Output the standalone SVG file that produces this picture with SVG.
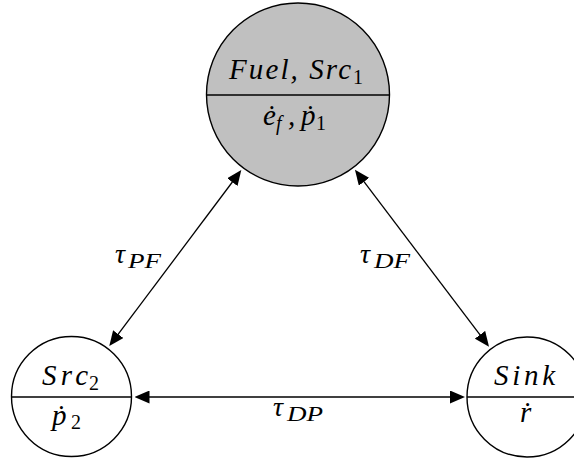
<svg xmlns="http://www.w3.org/2000/svg" width="574" height="459" viewBox="0 0 574 459">
  <style>
    .node { stroke: #000; stroke-width: 1.4; }
    .plain { fill: #fff; }
    .shaded { fill: #c0c0c0; }
    .divider { stroke: #000; stroke-width: 1.4; }
    .m { font-family: "Liberation Serif", "DejaVu Serif", serif; font-style: italic; font-size: 29px; fill: #000; }
    .sub { font-family: "Liberation Serif", "DejaVu Serif", serif; font-style: italic; font-size: 20px; fill: #000; }
    .num { font-family: "Liberation Serif", "DejaVu Serif", serif; font-style: normal; font-size: 20px; fill: #000; }
    .lbl { font-family: "Liberation Serif", "DejaVu Serif", serif; font-style: italic; font-size: 28px; fill: #000; }
    .lsub { font-family: "Liberation Serif", "DejaVu Serif", serif; font-style: italic; font-size: 21px; fill: #000; }
    .edge { stroke: #000; stroke-width: 1.3; fill: none; marker-start: url(#head); marker-end: url(#head); }
  </style>
  <defs>
    <marker id="head" markerUnits="userSpaceOnUse" markerWidth="15" markerHeight="13" refX="7" refY="6.5" orient="auto-start-reverse">
      <path d="M0,0 L15,6.5 L0,13 z" fill="#000"/>
    </marker>
  </defs>

  <rect width="574" height="459" fill="#fff"/>

  <!-- connectors -->
  <g id="connectors">
    <line class="edge" x1="236.5" y1="176.5" x2="114.1" y2="339.7"/>
    <line class="edge" x1="359.8" y1="176.2" x2="484.2" y2="340.4"/>
    <line class="edge" x1="142.5" y1="397" x2="457" y2="397"/>
    <text class="lbl" x="115" y="263">τ</text>
    <text class="lsub" x="128" y="268" textLength="33" lengthAdjust="spacingAndGlyphs">PF</text>
    <text class="lbl" x="360" y="263">τ</text>
    <text class="lsub" x="374" y="268" textLength="36" lengthAdjust="spacingAndGlyphs">DF</text>
    <text class="lbl" x="273" y="416">τ</text>
    <text class="lsub" x="287" y="421" textLength="36" lengthAdjust="spacingAndGlyphs">DP</text>
  </g>

  <!-- fuel / source 1 node -->
  <g id="fuel">
    <circle class="node shaded" cx="298" cy="94.5" r="91.5"/>
    <line class="divider" x1="206.5" y1="95" x2="389.5" y2="95"/>
    <text class="m" x="229" y="79" textLength="122" lengthAdjust="spacing">Fuel, Src</text>
    <text class="num" x="353" y="84">1</text>
    <text class="m" x="263" y="125">ė</text>
    <text class="sub" x="276" y="130">f</text>
    <text class="m" x="288" y="125">,</text>
    <text class="m" x="301" y="125">ṗ</text>
    <text class="num" x="316" y="130">1</text>
  </g>

  <!-- source 2 node -->
  <g id="src2">
    <circle class="node plain" cx="71.5" cy="396.5" r="60"/>
    <line class="divider" x1="11.5" y1="397" x2="131.5" y2="397"/>
    <text class="m" x="42" y="385" textLength="46" lengthAdjust="spacing">Src</text>
    <text class="num" x="89" y="390">2</text>
    <text class="m" x="52" y="425">ṗ</text>
    <text class="num" x="71" y="429">2</text>
  </g>

  <!-- sink node -->
  <g id="sink">
    <circle class="node plain" cx="527" cy="397" r="60"/>
    <line class="divider" x1="467" y1="397" x2="587" y2="397"/>
    <text class="m" x="494" y="385" textLength="61" lengthAdjust="spacing">Sink</text>
    <text class="m" x="520" y="422">ṙ</text>
  </g>
</svg>
